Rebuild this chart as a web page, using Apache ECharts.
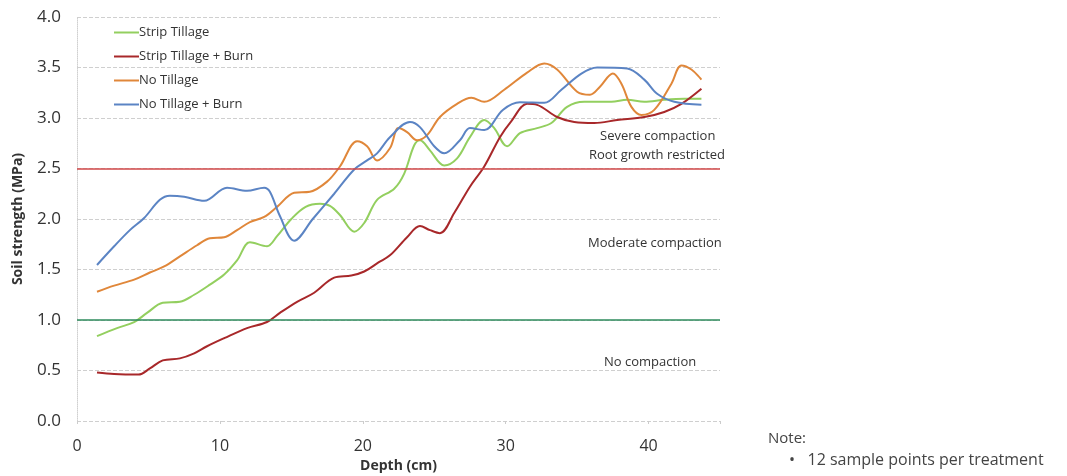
<!DOCTYPE html>
<html>
<head>
<meta charset="utf-8">
<script src="https://cdn.jsdelivr.net/npm/echarts@6/dist/echarts.min.js"></script>
<style>
  html, body { margin: 0; padding: 0; background: #fff; }
  #main { width: 1067px; height: 476px; }
</style>
</head>
<body>
<div id="main"></div>
<script>
var chartDom = document.getElementById("main");
var myChart = echarts.init(chartDom);

// series names
var seriesNames = ["Strip Tillage", "Strip Tillage + Burn", "No Tillage", "No Tillage + Burn"];

// Strip Tillage (depth cm, MPa)
var stDepth = [1.4, 2.8, 4.0, 4.9, 6.0, 7.2, 8.2, 9.3, 10.3, 11.2, 12.1, 13.3, 14.0, 15.0, 16.0, 17.0, 17.7, 18.4, 19.4, 20.1, 21.0, 22.2, 22.9, 23.6, 24.0, 24.7, 25.7, 26.6, 27.5, 28.5, 29.2, 30.1, 31.0, 32.2, 33.2, 34.3, 35.5, 37.4, 38.5, 39.7, 41.1, 42.5, 43.7];
var stVal = [0.84, 0.92, 0.98, 1.07, 1.17, 1.18, 1.25, 1.35, 1.45, 1.59, 1.77, 1.73, 1.83, 2.0, 2.12, 2.15, 2.13, 2.04, 1.875, 1.96, 2.19, 2.30, 2.45, 2.73, 2.78, 2.68, 2.53, 2.60, 2.81, 2.98, 2.90, 2.72, 2.85, 2.90, 2.95, 3.11, 3.16, 3.16, 3.18, 3.16, 3.18, 3.19, 3.19];

// Strip Tillage + Burn
var stbDepth = [1.4, 2.6, 4.3, 5.1, 6.0, 7.2, 8.2, 9.1, 10.3, 11.9, 13.3, 14.2, 15.4, 16.6, 18.0, 19.2, 20.1, 21.1, 21.9, 23.1, 24.0, 24.7, 25.4, 26.4, 27.5, 28.5, 29.6, 30.4, 31.5, 32.2, 33.6, 34.8, 36.2, 37.8, 39.7, 41.1, 42.3, 43.7];
var stbVal = [0.48, 0.465, 0.46, 0.52, 0.60, 0.62, 0.67, 0.74, 0.82, 0.92, 0.98, 1.07, 1.18, 1.27, 1.42, 1.44, 1.48, 1.57, 1.64, 1.82, 1.93, 1.89, 1.86, 2.06, 2.32, 2.52, 2.81, 2.97, 3.14, 3.13, 3.01, 2.96, 2.95, 2.98, 3.01, 3.06, 3.14, 3.29];

// No Tillage
var ntDepth = [1.4, 2.6, 4.0, 5.1, 6.1, 7.2, 8.4, 9.3, 10.3, 11.2, 12.1, 13.1, 14.0, 15.2, 16.3, 17.5, 18.4, 19.6, 20.3, 21.0, 21.9, 22.5, 23.1, 23.8, 24.5, 25.4, 26.6, 27.6, 28.5, 29.9, 31.5, 32.7, 33.6, 35.0, 35.9, 36.6, 37.5, 38.1, 38.8, 39.5, 40.4, 41.6, 42.3, 43.0, 43.7];
var ntVal = [1.28, 1.34, 1.40, 1.47, 1.53, 1.63, 1.74, 1.81, 1.82, 1.89, 1.97, 2.02, 2.12, 2.26, 2.27, 2.37, 2.52, 2.77, 2.72, 2.58, 2.70, 2.90, 2.86, 2.78, 2.83, 3.01, 3.14, 3.20, 3.16, 3.28, 3.45, 3.54, 3.48, 3.26, 3.23, 3.31, 3.44, 3.34, 3.11, 3.03, 3.08, 3.34, 3.52, 3.48, 3.38];

// No Tillage + Burn
var ntbDepth = [1.4, 2.6, 3.7, 4.7, 5.8, 6.5, 7.5, 8.9, 10.5, 11.9, 13.1, 13.5, 14.2, 15.2, 16.5, 18.0, 19.4, 20.3, 21.0, 21.9, 23.3, 24.0, 25.0, 25.7, 26.8, 27.5, 28.5, 29.8, 31.0, 32.7, 33.9, 35.3, 36.4, 38.5, 39.7, 40.6, 41.8, 43.7];
var ntbVal = [1.545, 1.73, 1.89, 2.01, 2.19, 2.23, 2.22, 2.18, 2.31, 2.28, 2.31, 2.27, 2.03, 1.785, 2.0, 2.25, 2.49, 2.58, 2.65, 2.81, 2.96, 2.91, 2.72, 2.65, 2.78, 2.90, 2.88, 3.08, 3.155, 3.15, 3.28, 3.44, 3.50, 3.49, 3.38, 3.24, 3.16, 3.13];

// threshold lines
var thresholds = [1.0, 2.5];

var xTicks = [0, 10, 20, 30, 40];

function pairs(xs, ys) {
  return xs.map(function (x, i) {
    return [x, ys[i]];
  });
}

var colors = ["#93cf5f", "#a8282a", "#e0873a", "#5b84c4"];
var allData = [
  pairs(stDepth, stVal),
  pairs(stbDepth, stbVal),
  pairs(ntDepth, ntVal),
  pairs(ntbDepth, ntbVal),
];

var series = seriesNames.map(function (name, i) {
  return {
    name: name,
    type: "line",
    data: allData[i],
    smooth: 0.35,
    showSymbol: false,
    lineStyle: { width: 2, color: colors[i] },
    itemStyle: { color: colors[i] },
    z: 3,
  };
});

// horizontal compaction limits
series.push({
  name: "limits",
  type: "line",
  data: [],
  silent: true,
  markLine: {
    symbol: "none",
    silent: true,
    label: { show: false },
    data: [
      { yAxis: thresholds[0], lineStyle: { color: "#2e8b5c", type: "solid", width: 1.5 } },
      { yAxis: thresholds[1], lineStyle: { color: "#d2484a", type: "solid", width: 1.5 } },
    ],
  },
});

var labelFont = "'Open Sans', 'Noto Sans', sans-serif";

var option = {
  animation: false,
  backgroundColor: "#ffffff",
  grid: { left: 77, right: 347, top: 17, bottom: 55, outerBoundsMode: "none" },
  legend: {
    data: seriesNames,
    orient: "vertical",
    left: 109,
    top: 21,
    itemGap: 11,
    itemWidth: 25,
    itemHeight: 2,
    icon: "rect",
    textStyle: { fontFamily: labelFont, fontSize: 13, color: "#333", padding: [0, 0, 0, -5] },
  },
  xAxis: {
    type: "value",
    min: 0,
    max: 45,
    interval: 10,
    name: "Depth (cm)",
    nameLocation: "middle",
    nameGap: 38,
    nameTextStyle: { fontFamily: labelFont, fontSize: 14, fontWeight: "bold", color: "#333" },
    axisLine: { show: false },
    axisTick: { show: true, length: 3, lineStyle: { color: "#ccc" } },
    axisLabel: {
      fontFamily: labelFont,
      fontSize: 16,
      color: "#333",
      margin: 17,
      formatter: function (v) {
        return xTicks.indexOf(v) >= 0 ? String(v) : "";
      },
    },
    splitLine: { show: false },
  },
  yAxis: {
    type: "value",
    min: 0,
    max: 4,
    interval: 0.5,
    name: "Soil strength (MPa)",
    nameLocation: "middle",
    nameGap: 52,
    nameTextStyle: { fontFamily: labelFont, fontSize: 14, fontWeight: "bold", color: "#333" },
    axisLine: { show: true, lineStyle: { color: "#d0d0d0", type: "dotted" } },
    axisTick: { show: false },
    axisLabel: {
      fontFamily: labelFont,
      fontSize: 17,
      color: "#333",
      margin: 16,
      formatter: function (v) {
        return v.toFixed(1);
      },
    },
    splitLine: { show: true, lineStyle: { color: "#cfcfcf", type: "dashed", width: 1 } },
  },
  graphic: [
    { type: "text", left: 600, top: 130, style: { text: "Severe compaction", font: "13px 'Open Sans', sans-serif", fill: "#333" } },
    { type: "text", left: 589, top: 149, style: { text: "Root growth restricted", font: "13px 'Open Sans', sans-serif", fill: "#333" } },
    { type: "text", left: 588, top: 237, style: { text: "Moderate compaction", font: "13px 'Open Sans', sans-serif", fill: "#333" } },
    { type: "text", left: 604, top: 356, style: { text: "No compaction", font: "13px 'Open Sans', sans-serif", fill: "#333" } },
    { type: "text", left: 768, top: 431, style: { text: "Note:", font: "15px 'Open Sans', sans-serif", fill: "#444" } },
    { type: "text", left: 789, top: 452, style: { text: "\u2022   12 sample points per treatment", font: "16px 'Open Sans', sans-serif", fill: "#444" } },
  ],
  series: series,
};

myChart.setOption(option);
</script>
</body>
</html>
